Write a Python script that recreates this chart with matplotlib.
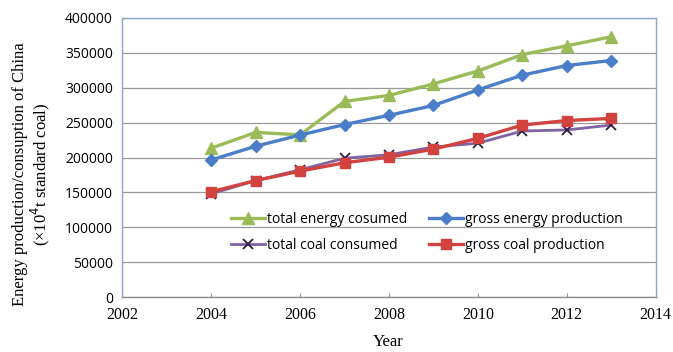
import matplotlib
matplotlib.use("Agg")
import matplotlib.pyplot as plt
from matplotlib.lines import Line2D

years = [2004, 2005, 2006, 2007, 2008, 2009, 2010, 2011, 2012, 2013]
total_energy_consumed = [213500, 236000, 232500, 280500, 289000, 305500, 324000, 347500, 360000, 373000]
gross_energy_production = [196600, 216200, 232200, 247300, 260500, 274600, 296900, 318000, 331800, 339000]
total_coal_consumed = [148000, 167000, 182500, 199000, 204000, 215000, 220500, 238000, 239500, 246500]
gross_coal_production = [151000, 167000, 180500, 192500, 200500, 212000, 227500, 246500, 253000, 256000]

labels = ["total energy cosumed", "gross energy production",
          "total coal consumed", "gross coal production"]
xticks = [2002, 2004, 2006, 2008, 2010, 2012, 2014]
yticks = [0, 50000, 100000, 150000, 200000, 250000, 300000, 350000, 400000]

fig = plt.figure(figsize=(6.73, 3.52), dpi=100)
ax = fig.add_axes([0.182, 0.156, 0.792, 0.793])

green = "#9BBB59"
blue = "#4A7EC8"
purple = "#8064A2"
red = "#D2423F"
xcol = "#2a2040"

ax.plot(years, total_energy_consumed, color=green, lw=2.4, marker="^", ms=8, zorder=3)
ax.plot(years, gross_energy_production, color=blue, lw=2.4, marker="D", ms=6, zorder=4)
ax.plot(years, total_coal_consumed, color=purple, lw=2.0, zorder=3)
ax.plot(years, total_coal_consumed, ls="none", marker="x", ms=7, mew=1.3,
        color=xcol, zorder=5)
ax.plot(years, gross_coal_production, color=red, lw=2.4, marker="s", ms=7, zorder=6)

ax.set_xlim(2002, 2014)
ax.set_ylim(0, 400000)
ax.set_xticks(xticks)
ax.set_yticks(yticks)
ax.set_xticklabels([str(x) for x in xticks], fontfamily="Liberation Serif", fontsize=11.5)
ax.set_yticklabels([str(y) for y in yticks], fontfamily="Open Sans", fontsize=10)
ax.tick_params(axis="x", direction="in", length=3, color="#999999", pad=7)
ax.tick_params(axis="y", length=0, pad=7)
ax.grid(axis="y", color="#9a9a9a", lw=0.9)
ax.set_axisbelow(True)
for s in ax.spines.values():
    s.set_color("#8ea5c8")
    s.set_linewidth(1.0)
ax.spines["bottom"].set_color("#8c8c8c")

fig.text(0.5774, 0.028, "Year", fontfamily="Liberation Serif", fontsize=12,
         ha="center", va="center")
fig.text(0.047, 0.505,
         "Energy production/consuption of China\n(\u00d710$^4$t standard coal)",
         fontfamily="Liberation Serif", fontsize=12, rotation=90,
         ha="center", va="center", linespacing=1.05, multialignment="center")

handles = [
    Line2D([], [], color=green, lw=2.4, marker="^", ms=8),
    Line2D([], [], color=purple, lw=2.0, marker="x", ms=7, mew=1.3, mec=xcol),
    Line2D([], [], color=blue, lw=2.4, marker="D", ms=6),
    Line2D([], [], color=red, lw=2.4, marker="s", ms=7),
]
leg_labels = [labels[0], labels[2], labels[1], labels[3]]
leg = ax.legend(handles, leg_labels, ncol=2, loc="upper left",
                bbox_to_anchor=(0.181, 0.35), frameon=False,
                prop={"family": "Open Sans", "size": 10},
                handlelength=2.4, handletextpad=0.15, columnspacing=1.6,
                labelspacing=0.8)

fig.savefig("out.png", dpi=100)
